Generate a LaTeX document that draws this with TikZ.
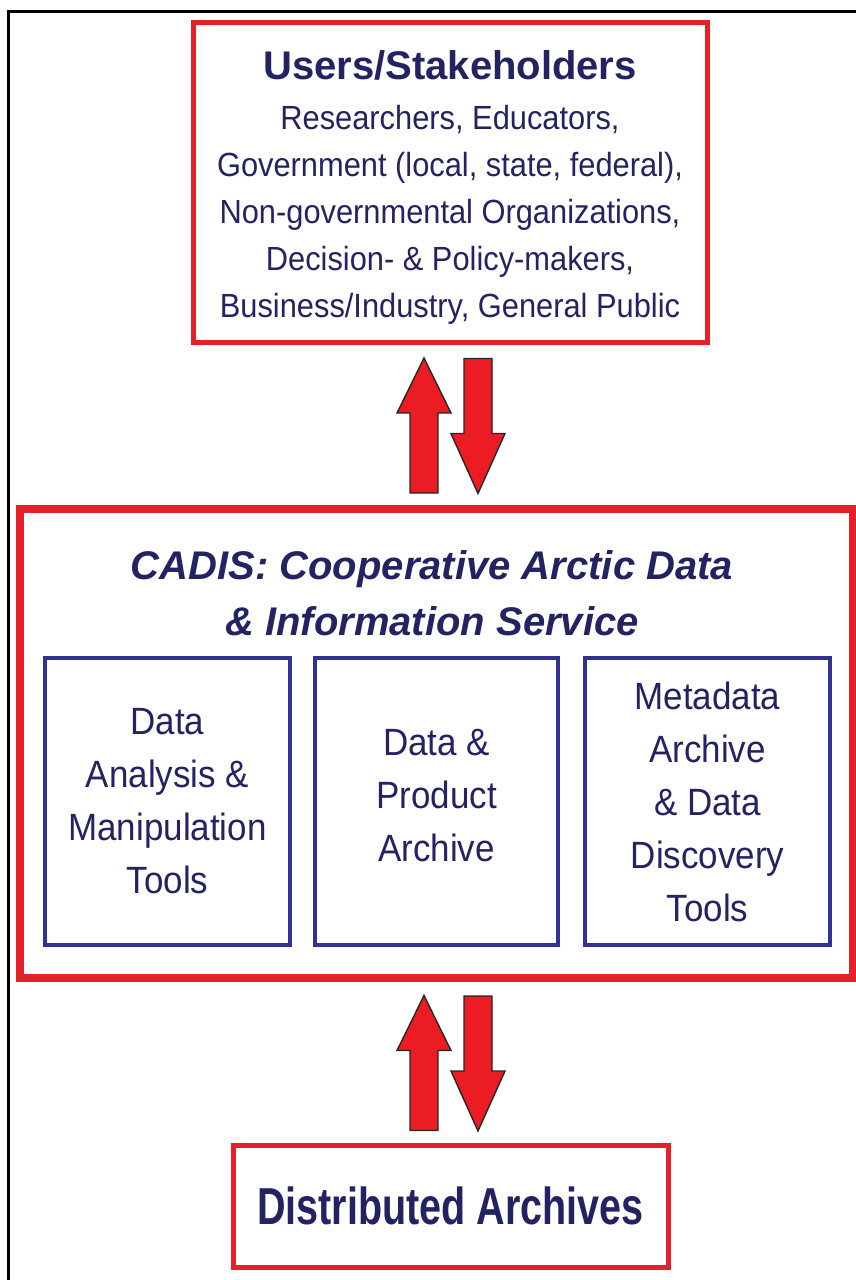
\documentclass[tikz,border=0pt]{standalone}
\usepackage{fontspec}
\setmainfont{Liberation Sans}
\newfontfamily\tallsans[FakeStretch=0.92]{Liberation Sans}
\usetikzlibrary{calc}

\definecolor{navy}{RGB}{35,35,100}
\definecolor{boxred}{RGB}{228,32,40}
\definecolor{boxblue}{RGB}{50,50,150}
\definecolor{arrowred}{RGB}{236,28,36}

\begin{document}
\begin{tikzpicture}[x=1pt, y=-1pt,
    redbox/.style={rectangle, draw=boxred, line width=5pt, text=navy, align=center},
    toolbox/.style={rectangle, draw=boxblue, line width=4pt, text=navy, align=center, minimum width=245pt, minimum height=287pt, font=\tallsans\fontsize{38}{53}\selectfont},
    fatarrow/.style={fill=arrowred, draw=black!85, line width=1.4pt, line join=miter}
]
    \useasboundingbox (0,0) rectangle (856,1280);
    \clip (0,0) rectangle (856,1280);

    % frame (runs off on the right and at the bottom)
    \draw[line width=3pt] (8,11) rectangle (900,1320);

    % Boxes
    \node[redbox, minimum width=514pt, minimum height=320pt, font=\tallsans\fontsize{33.5}{47}\selectfont] (users) at (450,182)
        {{\rmfamily\fontsize{40}{47}\selectfont\bfseries Users/Stakeholders\rule{0pt}{39pt}}\\[3pt]
         Researchers, Educators,\\
         Government (local, state, federal),\\
         Non-governmental Organizations,\\
         Decision- \& Policy-makers,\\
         Business/Industry, General Public};

    \node[redbox, line width=8pt, minimum width=833pt, minimum height=469pt] (cadis) at (436.5,743.5) {};
    \node[text=navy, align=center, font=\fontsize{40}{56}\selectfont\bfseries\itshape] (cadistitle) at (432,593)
        {CADIS: Cooperative Arctic Data\\ \& Information Service};

    \node[toolbox] (tools) at (167.5,801.5) {Data\\ Analysis \&\\ Manipulation\\ Tools};
    \node[toolbox, minimum width=243pt] (archive) at (436.5,801.5) {Data \&\\ Product\\ Archive\rule[-12pt]{0pt}{12pt}};
    \node[toolbox] (meta) at (707.5,801.5) {Metadata\\ Archive\\ \& Data\\ Discovery\\ Tools};

    \node[redbox, minimum width=435pt, minimum height=122pt, font=\fontsize{52}{60}\selectfont\bfseries] (archives) at (450.5,1206)
        {\scalebox{0.76}[1]{Distributed Archives}};

    % Arrows (up and down between each pair of boxes)
    \foreach \a/\b in {users/cadis, cadis/archives} {
        \draw[fatarrow] ($(\b.north -| users.south)+(-40,-12)$) -- ++(0,-80) -- ++(-13,0) -- ++(27,-55)
            -- ++(27,55) -- ++(-13,0) -- ++(0,80) -- cycle;
        \draw[fatarrow] ($(\a.south -| users.south)+(14,14)$) -- ++(0,75) -- ++(-13,0) -- ++(27,60)
            -- ++(27,-60) -- ++(-13,0) -- ++(0,-75) -- cycle;
    }

\end{tikzpicture}
\end{document}
